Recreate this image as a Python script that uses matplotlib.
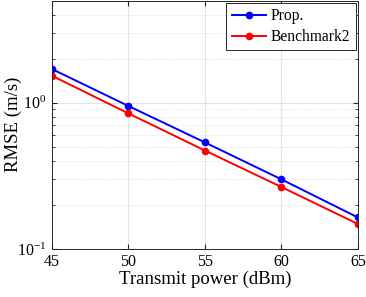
import numpy as np
import matplotlib
matplotlib.use("Agg")
import matplotlib.pyplot as plt
from matplotlib.ticker import LogLocator, NullFormatter

# ── Data ──────────────────────────────────────────────────────────────────────
power_dbm  = [45, 50, 55, 60, 65]
rmse_prop  = [1.70, 0.95, 0.535, 0.299, 0.164]
rmse_bench = [1.53, 0.845, 0.471, 0.265, 0.148]
x_ticks    = [45, 50, 55, 60, 65]

plt.rcParams["font.family"] = ["Liberation Serif", "DejaVu Serif"]
plt.rcParams["mathtext.fontset"] = "custom"
plt.rcParams["mathtext.rm"] = "Liberation Serif"

fig = plt.figure(figsize=(3.66, 2.97), dpi=100)
ax = fig.add_axes([0.142, 0.162, 0.836, 0.836])

ax.semilogy(power_dbm, rmse_prop, "-o", color="#0000ff", lw=1.4, ms=4.5, label="Prop.")
ax.semilogy(power_dbm, rmse_bench, "-o", color="#ff0000", lw=1.4, ms=4.5, label="Benchmark2")

ax.set_xlim(45, 65)
ax.set_ylim(0.1, 5)
ax.set_xticks(x_ticks)
ax.yaxis.set_major_locator(LogLocator(base=10, numticks=5))
ax.yaxis.set_minor_locator(LogLocator(base=10, subs=np.arange(2, 10), numticks=10))
ax.yaxis.set_minor_formatter(NullFormatter())

ax.grid(True, which="major", color="#e3e3e3", lw=0.8, ls="-")
ax.grid(True, which="minor", color="#d8d8d8", lw=0.6, ls=":")
ax.tick_params(which="both", direction="in", top=True, right=True, labelsize=11.5,
               color="#262626")
ax.tick_params(which="major", length=3.5, pad=4)
ax.tick_params(which="minor", length=2)
for s in ax.spines.values():
    s.set_color("#262626")
    s.set_linewidth(0.7)

ax.set_xlabel("Transmit power (dBm)", fontsize=13.5, labelpad=0)
ax.set_ylabel("RMSE (m/s)", fontsize=13.5)
ax.yaxis.set_label_coords(-0.098, 0.5)

leg = ax.legend(loc="upper right", fontsize=11.2, fancybox=False, framealpha=1,
                edgecolor="#262626", borderpad=0.35, handlelength=2.2,
                handletextpad=0.3, labelspacing=0.3, borderaxespad=0.15)
leg.get_frame().set_linewidth(0.7)

fig.savefig("out.png", dpi=100)
